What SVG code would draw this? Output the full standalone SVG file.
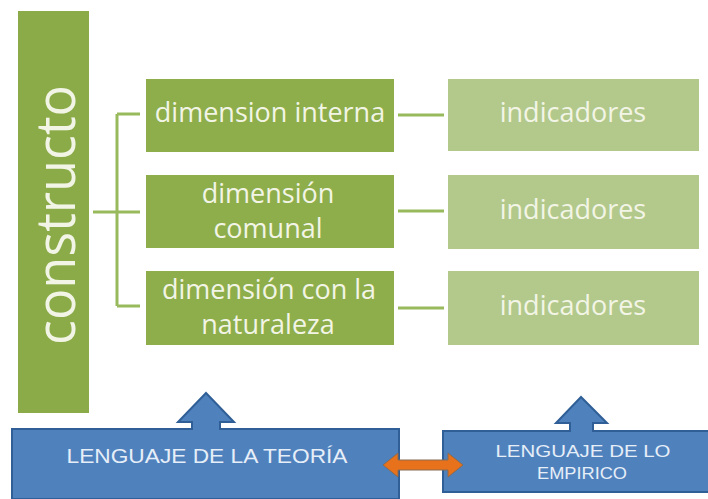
<svg xmlns="http://www.w3.org/2000/svg" width="708" height="499" viewBox="0 0 708 499">
<style>
.dim{fill:#8eae4b}
.ind{fill:#b2c98b}
.t{font-family:"Open Sans","Noto Sans",sans-serif;fill:#f2f5e6;text-anchor:middle;font-size:27px}
.conn{stroke:#98b95c;stroke-width:3;fill:none}
.blue{fill:#4f81bd;stroke:#2f5f96;stroke-width:2}
.bt{font-family:"Liberation Sans",Arial,sans-serif;fill:#e6eef8;text-anchor:middle}
</style>
<rect width="708" height="499" fill="#ffffff"/>
<g id="constructo">
<rect x="18" y="11" width="71" height="402" fill="#8aab47"/>
<text class="t" transform="translate(75,215) rotate(-90)" style="font-size:54px" textLength="260" lengthAdjust="spacingAndGlyphs">constructo</text>
</g>
<g id="connectors">
<path class="conn" d="M93 212 H140 M117 114 V306 M117 114 H140 M117 306 H140"/>
<path class="conn" d="M398 115 H444 M398 211 H444 M398 308 H444"/>
</g>
<g id="dim1"><rect class="dim" x="146" y="79" width="248" height="73"/><text class="t" x="270" y="122">dimension interna</text></g>
<g id="dim2"><rect class="dim" x="146" y="175" width="248" height="73"/><text class="t" x="268" y="203">dimensión</text><text class="t" x="268" y="238">comunal</text></g>
<g id="dim3"><rect class="dim" x="146" y="271" width="248" height="74"/><text class="t" x="269" y="299">dimensión con la</text><text class="t" x="268" y="334">naturaleza</text></g>
<g id="ind1"><rect class="ind" x="448" y="79" width="251" height="72"/><text class="t" x="573" y="122">indicadores</text></g>
<g id="ind2"><rect class="ind" x="448" y="175" width="251" height="74"/><text class="t" x="573" y="219">indicadores</text></g>
<g id="ind3"><rect class="ind" x="448" y="271" width="251" height="74"/><text class="t" x="573" y="315">indicadores</text></g>
<g id="teoria">
<path class="blue" d="M12 429 H192 V422 H178 L206 393 L234 422 H220 V429 H399 V499 H12 Z"/>
<text class="bt" x="207" y="463" font-size="20" textLength="281" lengthAdjust="spacingAndGlyphs">LENGUAJE DE LA TEORÍA</text>
</g>
<g id="empirico">
<path class="blue" d="M443 431 H570 V423 H556 L581 397 L607 423 H593 V431 H710 V492 H443 Z"/>
<text class="bt" x="583" y="457" font-size="17" textLength="175" lengthAdjust="spacingAndGlyphs">LENGUAJE DE LO</text>
<text class="bt" x="582" y="479" font-size="17" textLength="90" lengthAdjust="spacingAndGlyphs">EMPIRICO</text>
</g>
<g id="doublearrow">
<path d="M383 465 L398 453 V460 H448 V453 L463 465 L448 477 V470 H398 V477 Z" fill="#e8721c" stroke="#8a6a50" stroke-width="1"/>
</g>
</svg>
